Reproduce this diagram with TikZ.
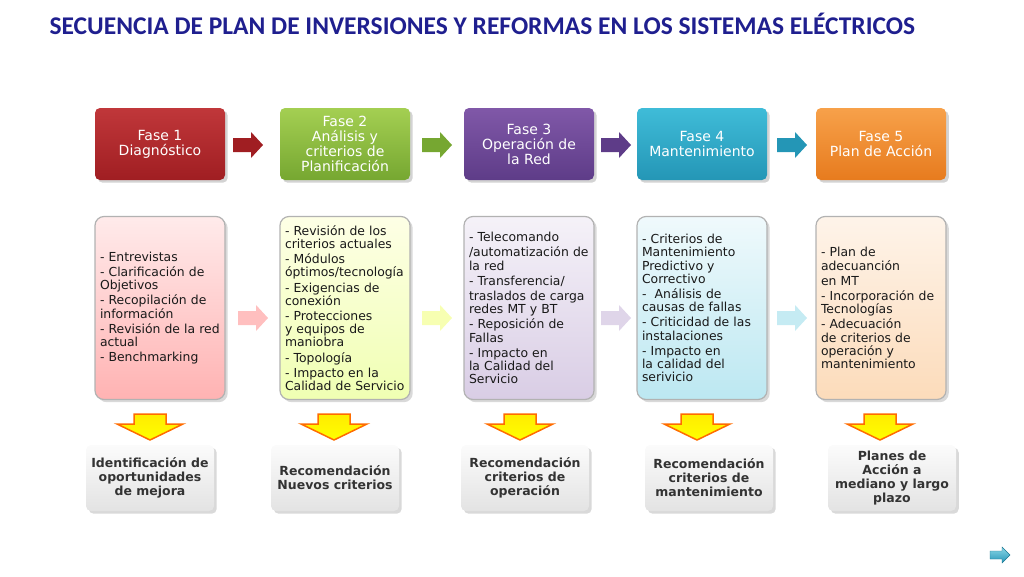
\documentclass[tikz,border=0pt]{standalone}
\usepackage{fontspec}
\setmainfont{DejaVu Sans}
\newfontfamily\titlefont{Carlito}
\usepackage{tikz}
\usetikzlibrary{shadows}
\definecolor{titblue}{HTML}{1F1F8F}
\definecolor{redA}{HTML}{C0373A}\definecolor{redB}{HTML}{A01E22}
\definecolor{grnA}{HTML}{A4CF52}\definecolor{grnB}{HTML}{76A731}
\definecolor{purA}{HTML}{8058A8}\definecolor{purB}{HTML}{5E3C88}
\definecolor{bluA}{HTML}{3FBCD8}\definecolor{bluB}{HTML}{2496B6}
\definecolor{orgA}{HTML}{F7A14A}\definecolor{orgB}{HTML}{E77B1E}
\newcommand\nohyph{\hyphenpenalty=10000\relax}
\tikzset{
  % top row phase boxes
  phase/.style={rounded corners=5pt, minimum width=130pt, minimum height=72pt,
    align=center, text=white, font=\fontsize{14}{15}\selectfont,
    drop shadow={opacity=.35}},
  % middle row boxes
  detail/.style={rounded corners=9pt, draw=gray!60, line width=1.2pt,
    minimum width=130pt, minimum height=183pt, text width=120pt, align=left,
    inner xsep=4pt,
    font={\fontsize{12.4}{13.2}\selectfont\nohyph}, text=black!90,
    drop shadow={opacity=.3}},
  % bottom result boxes
  result/.style={rounded corners=5pt, top color=gray!3, bottom color=gray!22,
    minimum width=128pt, minimum height=66pt, align=center,
    font=\fontsize{12.5}{14}\selectfont\bfseries, text=black!80, drop shadow={opacity=.3}},
  darrow/.style={top color=yellow!85!orange, bottom color=yellow, draw=orange!85!red, line width=1.5pt},
}
% right block arrow centred at #1
\newcommand\blockright[2]{\path[#2] #1 ++(-15,-7) -- ++(18,0) -- ++(0,-6) -- ++(12,13) -- ++(-12,13) -- ++(0,-6) -- ++(-18,0) -- cycle;}
% down block arrow centred at #1
\newcommand\blockdown[2]{\path[#2] #1 ++(-16,-12) -- ++(32,0) -- ++(0,10) -- ++(17,0) -- ++(-33,16) -- ++(-33,-16) -- ++(17,0) -- cycle;}
\begin{document}
\begin{tikzpicture}[x=1pt,y=-1pt]
\useasboundingbox (0,0) rectangle (1024,576);

% Title
\node[anchor=west, text=titblue, font=\fontsize{25.5}{26}\titlefont\bfseries] (title) at (46,24)
  {SECUENCIA DE PLAN DE INVERSIONES Y REFORMAS EN LOS SISTEMAS ELÉCTRICOS};

% Phases
\node[phase, top color=redA, bottom color=redB] (f1) at (160,144) {Fase 1\\Diagnóstico};
\node[phase, top color=grnA, bottom color=grnB] (f2) at (345,144) {Fase 2\\Análisis y\\criterios de\\Planificación};
\node[phase, top color=purA, bottom color=purB] (f3) at (529,144) {Fase 3\\Operación de\\la Red};
\node[phase, top color=bluA, bottom color=bluB] (f4) at (702,144) {Fase 4\\Mantenimiento};
\node[phase, top color=orgA, bottom color=orgB] (f5) at (881,144) {Fase 5\\Plan de Acción};

\blockright{(248,145)}{fill=redB}
\blockright{(437,145)}{fill=grnB}
\blockright{(616,145)}{fill=purB}
\blockright{(792,145)}{fill=bluB}

% Details
\node[detail, top color=red!8, bottom color=red!30] (d1) at (160,308) {%
- Entrevistas\\[2pt]- Clarificación de Objetivos\\[2pt]- Recopilación de información\\[2pt]- Revisión de la red actual\\[2pt]- Benchmarking};
\node[detail, top color=green!5!yellow!10, bottom color=green!20!yellow!30] (d2) at (345,308) {%
- Revisión de los criterios actuales\\[2pt]- Módulos óptimos/tecnología\\[2pt]- Exigencias de conexión\\[2pt]- Protecciones y equipos de maniobra\\[2pt]- Topología\\[2pt]- Impacto en la Calidad de Servicio};
\node[detail, top color=purA!8, bottom color=purA!30] (d3) at (529,308) {%
- Telecomando\\[2pt]/automatización de la red\\[2pt]- Transferencia/\\[2pt]traslados de carga redes MT y BT\\[2pt]- Reposición de Fallas\\[2pt]- Impacto en la Calidad del Servicio};
\node[detail, top color=bluA!8, bottom color=bluA!35] (d4) at (702,308) {%
- Criterios de Mantenimiento Predictivo y Correctivo\\[2pt]-\ \ Análisis de causas de fallas\\[2pt]- Criticidad de las instalaciones\\[2pt]- Impacto en la calidad del serivicio};
\node[detail, top color=orgA!12, bottom color=orgA!38] (d5) at (881,308) {%
- Plan de adecuanción\\[2pt]en MT\\[2pt]- Incorporación de Tecnologías\\[2pt]- Adecuación de criterios de operación y mantenimiento};

\blockright{(253,318)}{fill=red!25}
\blockright{(437,318)}{fill=green!10!yellow!30}
\blockright{(616,318)}{fill=purA!25}
\blockright{(792,318)}{fill=bluA!30}

% Results
\foreach \x in {150,334,520,697,880}{
  \blockdown{(\x,426)}{darrow}
}
\node[result] (r1) at (150,478) {Identificación de\\oportunidades\\de mejora};
\node[result] (r2) at (335,478) {Recomendación\\Nuevos criterios};
\node[result] (r3) at (525,478) {Recomendación\\criterios de\\operación};
\node[result] (r4) at (709,478) {Recomendación\\criterios de\\mantenimiento};
\node[result] (r5) at (892,478) {Planes de\\Acción a\\mediano y largo\\plazo};

% Next slide
\path[top color=bluA!60, bottom color=bluB, draw=bluB!80!black]
  (990,551) -- (1002,551) -- (1002,547) -- (1010,555) -- (1002,563) -- (1002,559) -- (990,559) -- cycle;
\end{tikzpicture}
\end{document}
